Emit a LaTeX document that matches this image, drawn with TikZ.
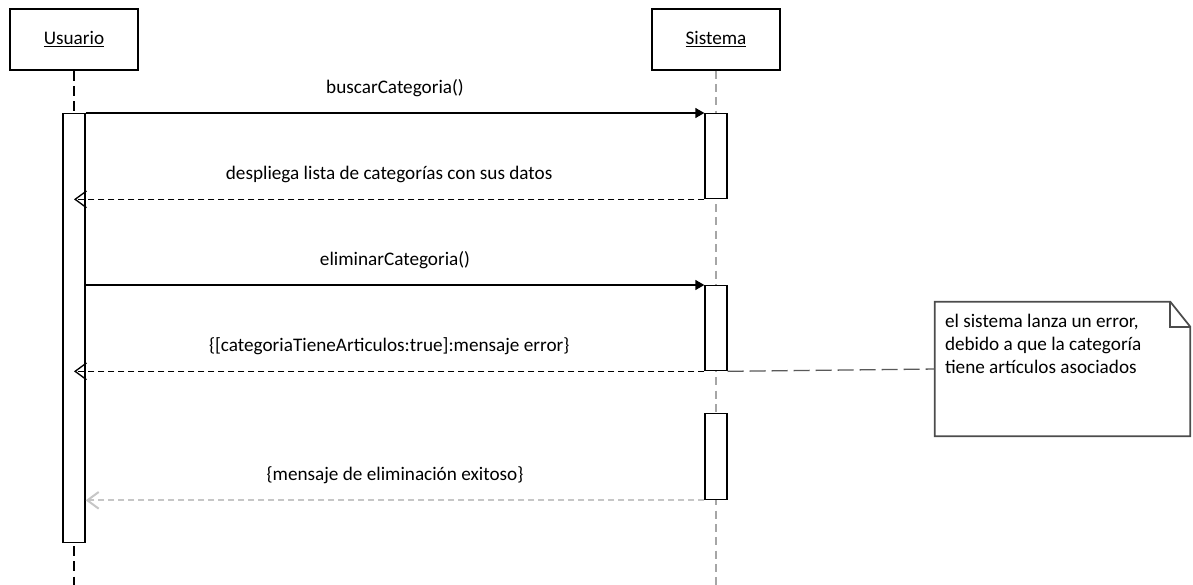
\documentclass[tikz,border=0pt]{standalone}
\usepackage{fontspec}
\setmainfont{Carlito}
\usetikzlibrary{arrows.meta}

\tikzset{
  head/.style={draw,line width=1pt,minimum width=96pt,minimum height=45.75pt,inner sep=0pt,font=\fontsize{14.4}{17}\selectfont},
  act/.style={draw,line width=1pt,fill=white,minimum width=16.5pt,inner sep=0pt,anchor=north},
  msg/.style={font=\fontsize{14.4}{17}\selectfont},
  call/.style={line width=1pt,-{Triangle[length=6.75pt,width=7.5pt]}},
  reply/.style={line width=1pt,dash pattern=on 4.5pt off 3pt,-{Straight Barb[length=8.5pt,width=12.5pt]}},
  notel/.style={black!70,line width=1.3pt,line join=miter},
}

\begin{document}
\begin{tikzpicture}[x=0.75pt,y=-0.75pt]
\useasboundingbox (0,0) rectangle (1193,585);

% lifelines
\node[head] (usr) at (74,39.5) {\underline{Usuario}};
\node[head] (sys) at (716,39.5) {\underline{Sistema}};
\coordinate (usrend) at (74,585);
\coordinate (sysend) at (716,585);
\draw[line width=1pt,dash pattern=on 7.5pt off 4pt] (usr) -- (usrend);
\draw[gray!70,line width=1pt,dash pattern=on 6pt off 4pt] (sys) -- (sysend);

% activations
\node[act,minimum height=321.75pt] (actU) at (74,113) {};
\node[act,minimum height=63.75pt] (actS1) at (716,113) {};
\node[act,minimum height=63.75pt] (actS2) at (716,285) {};
\node[act,minimum height=64.5pt] (actS3) at (716,413) {};

% messages
\draw[call] (actU.north east) -- (actS1.north west)
  node[msg,midway,yshift=18.75pt] (m1) {buscarCategoria()};
\draw[reply] (actS1.south west) -- (actS1.south west -| actU.north)
  node[msg,midway,yshift=18.75pt] (m2) {despliega lista de categorías con sus datos};
\draw[call] (actS2.north west -| actU.east) -- (actS2.north west)
  node[msg,midway,yshift=18.75pt] (m3) {eliminarCategoria()};
\draw[reply] (actS2.south west) -- (actS2.south west -| actU.north)
  node[msg,midway,yshift=18.75pt] (m4) {\{[categoriaTieneArticulos:true]:mensaje error\}};
\draw[reply,gray!45,line width=1.5pt] (actS3.south west) -- (actS3.south west -| actU.east)
  node[msg,black,midway,yshift=18.75pt] (m5) {\{mensaje de eliminación exitoso\}};

% note
\node[minimum width=191.25pt,minimum height=100.5pt,inner sep=0pt] (note) at (1062.5,369) {};
\draw[notel] (note.north west) -- ([xshift=-15pt]note.north east) -- ([yshift=-18.75pt]note.north east)
  -- (note.south east) -- (note.south west) -- cycle;
\draw[notel] ([xshift=-15pt]note.north east) |- ([yshift=-18.75pt]note.north east);
\node[msg,font=\fontsize{14.4}{17.25}\selectfont,anchor=north west,align=left,inner sep=0pt] (notetxt)
  at ([xshift=7.5pt,yshift=-9pt]note.north west)
  {el sistema lanza un error,\\debido a que la categoría\\tiene artículos asociados};
\draw[black!65,line width=1pt,dash pattern=on 12pt off 4.5pt] (actS2.south east) -- (note.west);

\end{tikzpicture}
\end{document}
